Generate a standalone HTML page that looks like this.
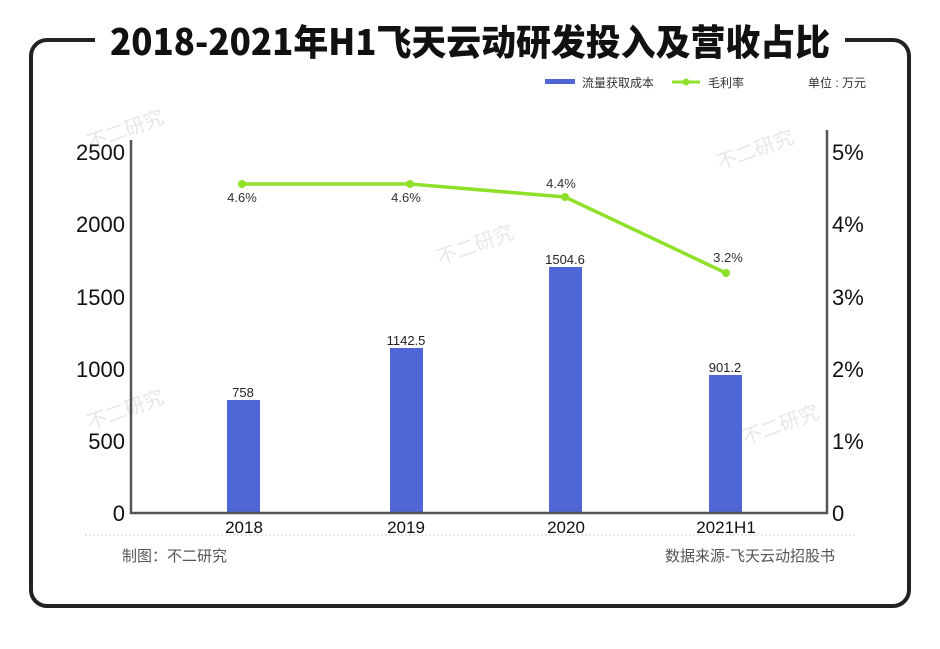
<!DOCTYPE html>
<html><head><meta charset="utf-8"><style>
body{margin:0;background:#fff;width:940px;height:644px;overflow:hidden;font-family:"Liberation Sans","Noto Sans CJK SC",sans-serif;}
</style></head><body>
<svg width="940" height="644" xmlns="http://www.w3.org/2000/svg" font-family="Liberation Sans, Noto Sans CJK SC, sans-serif">
<rect x="31" y="40" width="878" height="566" rx="16" fill="none" stroke="#222" stroke-width="4"/>
<rect x="95" y="20" width="750" height="40" fill="#fff"/>
<text x="110" y="55" textLength="720" lengthAdjust="spacingAndGlyphs" font-size="36" font-weight="900" fill="#111" font-family="Noto Sans CJK SC, sans-serif">2018-2021年H1飞天云动研发投入及营收占比</text>
<rect x="545" y="79" width="30" height="5" fill="#4e66d6"/>
<text x="582" y="87" font-size="12" fill="#333">流量获取成本</text>
<line x1="672" y1="82" x2="700" y2="82" stroke="#8fe02a" stroke-width="3"/>
<circle cx="686" cy="82" r="3.5" fill="#8fe02a"/>
<text x="708" y="87" font-size="12" fill="#333">毛利率</text>
<text x="808" y="87" font-size="12" fill="#333">单位 : 万元</text>
<g fill="#ddd" font-size="20" opacity="0.7">
<text x="90" y="150" transform="rotate(-20 90 150)">不二研究</text>
<text x="440" y="265" transform="rotate(-20 440 265)">不二研究</text>
<text x="720" y="170" transform="rotate(-20 720 170)">不二研究</text>
<text x="90" y="430" transform="rotate(-20 90 430)">不二研究</text>
<text x="745" y="445" transform="rotate(-20 745 445)">不二研究</text>
</g>
<g fill="#4e66d6">
<rect x="227" y="400" width="33" height="113"/>
<rect x="390" y="348" width="33" height="165"/>
<rect x="549" y="267" width="33" height="246"/>
<rect x="709" y="375" width="33" height="138"/>
</g>
<g font-size="13" fill="#222" text-anchor="middle">
<text x="243" y="397">758</text>
<text x="406" y="345">1142.5</text>
<text x="565" y="264">1504.6</text>
<text x="725" y="372">901.2</text>
</g>
<polyline points="242,184 410,184 565,197 726,273" fill="none" stroke="#8fe02a" stroke-width="3.5"/>
<g fill="#8fe02a"><circle cx="242" cy="184" r="4"/><circle cx="410" cy="184" r="4"/><circle cx="565" cy="197" r="4"/><circle cx="726" cy="273" r="4"/></g>
<g font-size="13" fill="#333" text-anchor="middle">
<text x="242" y="202">4.6%</text>
<text x="406" y="202">4.6%</text>
<text x="561" y="188">4.4%</text>
<text x="728" y="262">3.2%</text>
</g>
<path d="M131 140 V513 H827 V130" fill="none" stroke="#555" stroke-width="2.5"/>
<g font-size="22" fill="#111" text-anchor="end">
<text x="125" y="160">2500</text>
<text x="125" y="232">2000</text>
<text x="125" y="305">1500</text>
<text x="125" y="377">1000</text>
<text x="125" y="449">500</text>
<text x="125" y="521">0</text>
</g>
<g font-size="22" fill="#111">
<text x="832" y="160">5%</text>
<text x="832" y="232">4%</text>
<text x="832" y="305">3%</text>
<text x="832" y="377">2%</text>
<text x="832" y="449">1%</text>
<text x="832" y="521">0</text>
</g>
<g font-size="17" fill="#111" text-anchor="middle">
<text x="244" y="533">2018</text>
<text x="406" y="533">2019</text>
<text x="566" y="533">2020</text>
<text x="726" y="533">2021H1</text>
</g>
<line x1="85" y1="535" x2="855" y2="535" stroke="#ccc" stroke-width="1" stroke-dasharray="2,2"/>
<text x="122" y="561" font-size="15" fill="#555">制图：不二研究</text>
<text x="835" y="561" font-size="15" fill="#555" text-anchor="end">数据来源-飞天云动招股书</text>
</svg>
</body></html>
